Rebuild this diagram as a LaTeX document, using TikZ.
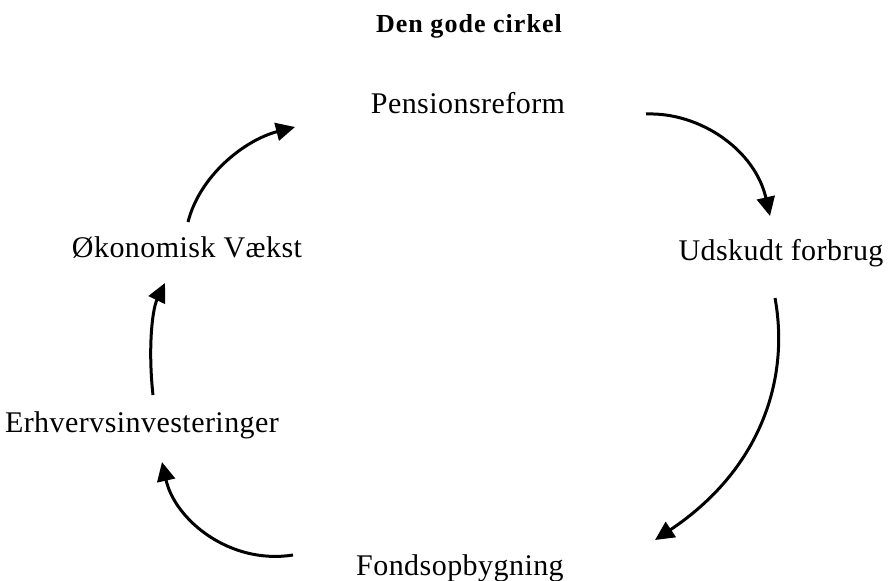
\documentclass[tikz,border=0pt]{standalone}
\usepackage{fontspec}
\setmainfont{Liberation Serif}
\usetikzlibrary{arrows.meta}
\begin{document}
\begin{tikzpicture}[x=1pt,y=-1pt,
  lbl/.style={anchor=base,inner sep=0pt,font=\fontsize{30}{34}\selectfont\addfontfeature{LetterSpace=1.5}},
  ttl/.style={anchor=base,inner sep=0pt,font=\fontsize{26}{30}\selectfont\bfseries\addfontfeature{LetterSpace=4}},
  arr/.style={line width=3pt,-{Triangle[length=19pt,width=18pt]}}]
\useasboundingbox (0,0) rectangle (890,580);
\node[ttl] (title) at (469,33) {Den gode cirkel};
\node[lbl] (pens) at (468,114) {Pensionsreform};
\node[lbl] (uds) at (781,260) {Udskudt forbrug};
\node[lbl] (fond) at (460,575) {Fondsopbygning};
\node[lbl] (erh) at (142,432) {Erhvervsinvesteringer};
\node[lbl] (oko) at (187,257) {Økonomisk Vækst};
\coordinate (a1s) at (646,114); \coordinate (a1e) at (770,216);
\coordinate (a2s) at (775,298); \coordinate (a2e) at (655,540);
\coordinate (a3s) at (293,555); \coordinate (a3e) at (162,462);
\coordinate (a4s) at (153,395); \coordinate (a4e) at (165,283);
\coordinate (a5s) at (188,222); \coordinate (a5e) at (295,127);
\draw[arr] (a1s) .. controls (700,112) and (755,150) .. (a1e);
\draw[arr] (a2s) .. controls (790,380) and (760,470) .. (a2e);
\draw[arr] (a3s) .. controls (230,565) and (175,520) .. (a3e);
\draw[arr] (a4s) .. controls (148,350) and (152,310) .. (a4e);
\draw[arr] (a5s) .. controls (200,175) and (245,140) .. (a5e);
\end{tikzpicture}
\end{document}
